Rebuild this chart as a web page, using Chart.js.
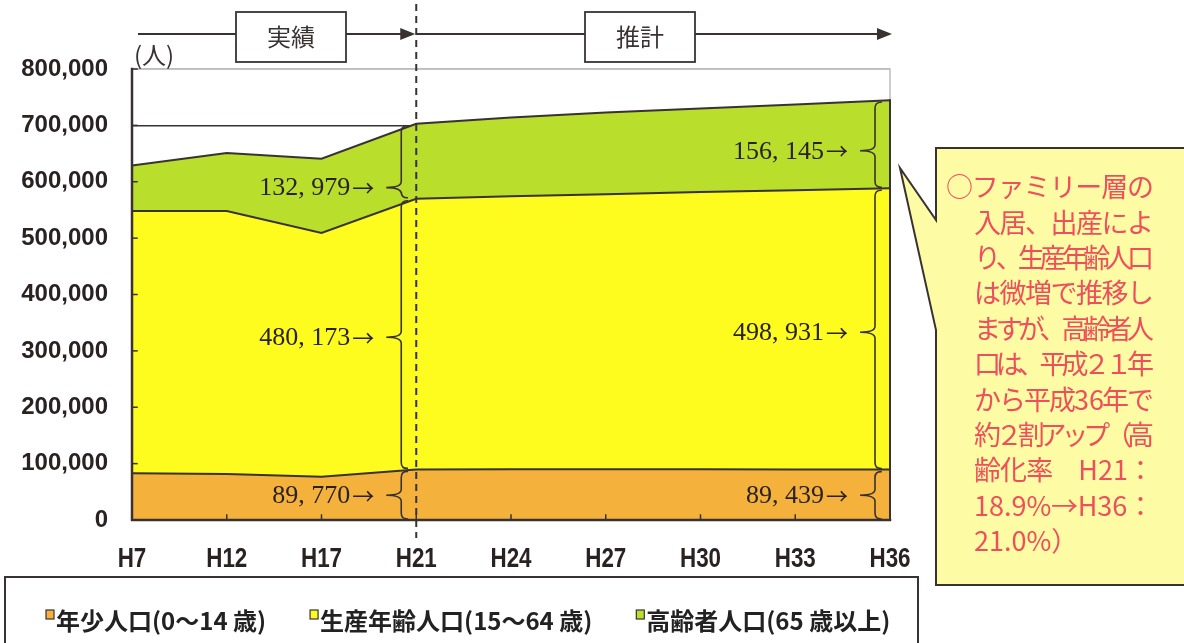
<!DOCTYPE html>
<html lang="ja">
<head>
<meta charset="utf-8">
<title>年齢3区分別人口の推移</title>
<script src="https://cdn.jsdelivr.net/npm/chart.js@4.4.1/dist/chart.umd.min.js"></script>
<style>
  html, body { margin: 0; padding: 0; background: #fff; }
  #wrap { width: 1184px; height: 643px; }
</style>
</head>
<body>
<div id="wrap"><canvas id="popChart" width="1184" height="643"></canvas></div>
<script>
// 年度（平成）
const years = ['H7', 'H12', 'H17', 'H21', 'H24', 'H27', 'H30', 'H33', 'H36'];
// 年少人口（0～14歳）
const youth = [82800, 81600, 76800, 89770, 90100, 90000, 89900, 89700, 89439];
// 生産年齢人口（15～64歳）
const working = [465200, 466400, 432200, 480173, 484400, 488000, 492100, 495300, 498931];
// 高齢者人口（65歳以上）
const elderly = [81000, 103000, 132000, 132979, 139500, 145000, 148000, 152000, 156145];

const seriesNames = ['年少人口(0～14 歳)', '生産年齢人口(15～64 歳)', '高齢者人口(65 歳以上)'];
const seriesColors = ['#f4b23c', '#fdfc1e', '#b9de2c'];

// 実績／推計の境目と、内訳を示す年度
const splitYear = 'H21';
const braceYears = ['H21', 'H36'];

const noteLines = [
  '○ファミリー層の',
  '入居、出産によ',
  'り、生産年齢人口',
  'は微増で推移し',
  'ますが、高齢者人',
  '口は、平成２１年',
  'から平成36年で',
  '約２割アップ（高',
  '齢化率　H21：',
  '18.9%→H36：',
  '21.0%）'
];

const INK = '#3a3232';

function fmt(v) {
  return v.toLocaleString('en-US').replace(',', ', ');
}

function drawBrace(ctx, xv, top, bottom, tipY, xTip) {
  const r = 6;
  ctx.beginPath();
  ctx.moveTo(xv + r, top);
  ctx.quadraticCurveTo(xv, top, xv, top + r);
  ctx.lineTo(xv, tipY - r);
  ctx.quadraticCurveTo(xv, tipY, xTip, tipY);
  ctx.quadraticCurveTo(xv, tipY, xv, tipY + r);
  ctx.lineTo(xv, bottom - r);
  ctx.quadraticCurveTo(xv, bottom, xv + r, bottom);
  ctx.stroke();
}

function arrowLine(ctx, x1, x2, y) {
  ctx.beginPath();
  ctx.moveTo(x1, y);
  ctx.lineTo(x2 - 12, y);
  ctx.stroke();
  ctx.beginPath();
  ctx.moveTo(x2, y);
  ctx.lineTo(x2 - 15, y - 6);
  ctx.lineTo(x2 - 15, y + 6);
  ctx.closePath();
  ctx.fill();
}

function labelBox(ctx, cx, y, w, h, text) {
  ctx.fillStyle = '#fff';
  ctx.fillRect(cx - w / 2, y, w, h);
  ctx.strokeRect(cx - w / 2, y, w, h);
  ctx.fillStyle = INK;
  ctx.font = '24px "Noto Sans CJK JP"';
  ctx.textAlign = 'center';
  ctx.textBaseline = 'middle';
  ctx.fillText(text, cx, y + h / 2);
}

// 行を両端揃えで描く（英数字のまとまりは分けない）
function justifyLine(ctx, text, x0, x1, y) {
  const parts = text.match(/[A-Za-z0-9.%]+|./gu);
  const widths = parts.map(p => ctx.measureText(p).width);
  const total = widths.reduce((s, w) => s + w, 0);
  const gap = parts.length > 1 ? (x1 - x0 - total) / (parts.length - 1) : 0;
  let x = x0;
  parts.forEach((p, i) => {
    ctx.fillText(p, x, y);
    x += widths[i] + gap;
  });
}

const decorations = {
  id: 'decorations',
  beforeDatasetsDraw(chart) {
    const {ctx, chartArea: a} = chart;
    ctx.save();
    ctx.strokeStyle = '#bdbdbd';
    ctx.lineWidth = 1.5;
    ctx.strokeRect(a.left, a.top, a.right - a.left, a.bottom - a.top);
    ctx.restore();
  },
  afterDatasetsDraw(chart) {
    const {ctx, chartArea: a, scales: {x, y}} = chart;
    const last = years.length - 1;
    ctx.save();
    ctx.strokeStyle = INK;
    ctx.lineCap = 'square';

    // 右端
    ctx.lineWidth = 2;
    ctx.beginPath();
    ctx.moveTo(a.right, y.getPixelForValue(youth[last] + working[last] + elderly[last]));
    ctx.lineTo(a.right, a.bottom);
    ctx.stroke();

    // 軸線と目盛
    ctx.lineWidth = 2.5;
    ctx.beginPath();
    ctx.moveTo(a.left, a.top);
    ctx.lineTo(a.left, a.bottom);
    ctx.lineTo(a.right, a.bottom);
    ctx.stroke();
    ctx.lineWidth = 1.5;
    y.ticks.forEach(t => {
      const py = y.getPixelForValue(t.value);
      ctx.beginPath();
      ctx.moveTo(a.left, py);
      ctx.lineTo(a.left + 5, py);
      ctx.stroke();
    });
    years.forEach((yr, i) => {
      const px = x.getPixelForValue(i);
      ctx.beginPath();
      ctx.moveTo(px, a.bottom);
      ctx.lineTo(px, a.bottom - 5);
      ctx.stroke();
    });

    // 中括弧と内訳の値
    const tipPos = {H21: [0.5, 0.51, 0.86], H36: [0.5, 0.51, 0.57]};
    ctx.lineWidth = 1.6;
    ctx.textBaseline = 'middle';
    braceYears.forEach(yr => {
      const i = years.indexOf(yr);
      const px = x.getPixelForValue(i);
      let base = 0;
      [youth, working, elderly].forEach((arr, k) => {
        const v = arr[i];
        const bottom = y.getPixelForValue(base) - 1;
        const top = y.getPixelForValue(base + v) + 2;
        base += v;
        const tipY = top + (bottom - top) * tipPos[yr][k];
        drawBrace(ctx, px - 15, top, bottom, tipY, px - 30);
        ctx.fillStyle = '#2a2222';
        ctx.textAlign = 'right';
        ctx.font = '22px "Noto Sans CJK JP"';
        ctx.fillText('→', px - 42, tipY);
        ctx.font = '26px "Liberation Serif"';
        ctx.fillText(fmt(v), px - 66, tipY + 1);
      });
    });
    ctx.restore();
  },
  afterDraw(chart) {
    const {ctx, chartArea: a, scales: {x}} = chart;
    const xs = x.getPixelForValue(years.indexOf(splitYear));
    ctx.save();

    // 横軸の年度（縦長の書体に寄せて横を詰める）
    ctx.fillStyle = '#2a2222';
    ctx.font = 'bold 28px "Liberation Sans"';
    ctx.textAlign = 'center';
    ctx.textBaseline = 'alphabetic';
    x.ticks.forEach((t, i) => {
      ctx.save();
      ctx.translate(x.getPixelForTick(i), a.bottom + 47);
      ctx.scale(0.8, 1);
      ctx.fillText(x.getLabelForValue(t.value), 0, 0);
      ctx.restore();
    });

    // 実績・推計の見出し
    ctx.strokeStyle = INK;
    ctx.fillStyle = INK;
    ctx.lineWidth = 2;
    arrowLine(ctx, a.left + 6, xs - 1, 34);
    arrowLine(ctx, xs, a.right + 2, 34);
    ctx.lineWidth = 1.8;
    labelBox(ctx, 291, 12, 110, 50, '実績');
    labelBox(ctx, 640, 12, 110, 50, '推計');

    // 境目の破線
    ctx.strokeStyle = INK;
    ctx.lineWidth = 2;
    ctx.setLineDash([7, 5]);
    ctx.beginPath();
    ctx.moveTo(xs, 4);
    ctx.lineTo(xs, a.bottom + 18);
    ctx.stroke();
    ctx.setLineDash([]);

    // 単位
    ctx.fillStyle = INK;
    ctx.font = '24px "Noto Sans CJK JP"';
    ctx.textAlign = 'left';
    ctx.textBaseline = 'middle';
    ctx.fillText('(人)', a.left + 2, 55);

    // 吹き出し
    ctx.beginPath();
    ctx.moveTo(936, 148);
    ctx.lineTo(1192, 148);
    ctx.lineTo(1192, 585);
    ctx.lineTo(936, 585);
    ctx.lineTo(936, 330);
    ctx.lineTo(900, 168);
    ctx.lineTo(936, 220);
    ctx.closePath();
    ctx.fillStyle = '#fdfca4';
    ctx.fill();
    ctx.strokeStyle = INK;
    ctx.lineWidth = 2;
    ctx.stroke();

    ctx.fillStyle = '#ef4f5c';
    ctx.font = '27px "Noto Sans CJK JP"';
    ctx.textAlign = 'left';
    ctx.textBaseline = 'middle';
    noteLines.forEach((line, i) => {
      const ly = 187 + i * 35.4;
      const x0 = i === 0 ? 946 : 974;
      if (i === noteLines.length - 1) {
        ctx.fillText(line, x0, ly);
      } else {
        justifyLine(ctx, line, x0, 1181 - ctx.measureText(Array.from(line).pop()).width, ly);
      }
    });

    // 凡例
    ctx.strokeStyle = INK;
    ctx.lineWidth = 2;
    ctx.strokeRect(5, 577, 913, 80);
    ctx.font = 'bold 24px "Noto Sans CJK JP"';
    ctx.textBaseline = 'middle';
    let lx = 46;
    const ly = 621;
    chart.data.datasets.forEach(ds => {
      ctx.fillStyle = ds.backgroundColor;
      ctx.fillRect(lx, ly - 11, 8, 9);
      ctx.lineWidth = 1.2;
      ctx.strokeRect(lx, ly - 11, 8, 9);
      ctx.fillStyle = '#222';
      ctx.fillText(ds.label, lx + 10, ly);
      lx += 10 + ctx.measureText(ds.label).width + 44;
    });
    ctx.restore();
  }
};

const ctx = document.getElementById('popChart').getContext('2d');

new Chart(ctx, {
  type: 'line',
  data: {
    labels: years,
    datasets: [youth, working, elderly].map((arr, k) => ({
      label: seriesNames[k],
      data: arr,
      backgroundColor: seriesColors[k],
      borderColor: INK,
      borderWidth: 2,
      pointRadius: 0,
      tension: 0,
      fill: k === 0 ? 'origin' : '-1'
    }))
  },
  options: {
    responsive: false,
    animation: false,
    devicePixelRatio: 1,
    layout: {padding: {top: 69, right: 294, bottom: 73, left: 0}},
    plugins: {
      legend: {display: false},
      tooltip: {enabled: false}
    },
    scales: {
      x: {
        offset: false,
        grid: {display: false},
        border: {display: false},
        ticks: {
          autoSkip: false,
          maxRotation: 0,
          padding: 18,
          color: 'rgba(0,0,0,0)',
          font: {family: '"Liberation Sans"', size: 26, weight: 'bold'}
        },
        afterFit: s => { s.height = 50; }
      },
      y: {
        stacked: true,
        min: 0,
        max: 800000,
        border: {display: false},
        grid: {
          drawTicks: false,
          color: c => c.tick && c.tick.value === 800000 ? '#bdbdbd' : INK,
          lineWidth: 1.5
        },
        ticks: {
          stepSize: 100000,
          padding: 24,
          color: '#2a2222',
          font: {family: '"Liberation Sans"', size: 24, weight: 'bold'},
          callback: v => v.toLocaleString('en-US')
        },
        afterFit: s => { s.width = 132; }
      }
    }
  },
  plugins: [decorations]
});
</script>
</body>
</html>
